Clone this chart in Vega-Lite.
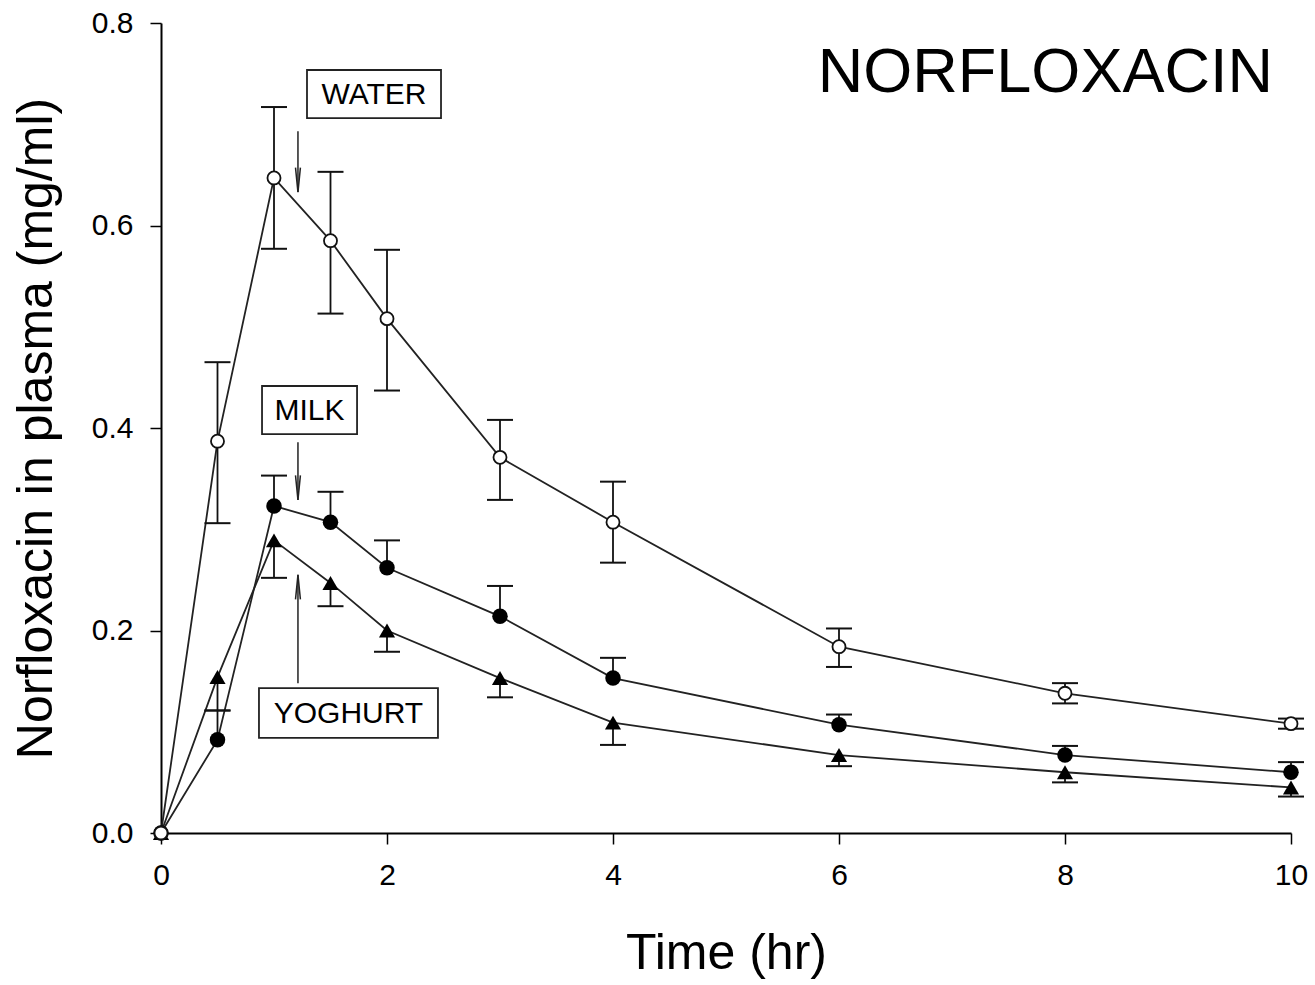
{
  "$schema": "https://vega.github.io/schema/vega-lite/v6.json",
  "autosize": {"type": "none"},
  "width": 1130,
  "height": 810,
  "padding": {"left": 161, "top": 23, "right": 24, "bottom": 152},
  "background": "white",
  "config": {
    "view": {"stroke": null},
    "font": "Liberation Sans",
    "axis": {
      "grid": false,
      "labelFlush": false,
      "domainColor": "black",
      "domainWidth": 2,
      "tickColor": "black",
      "tickWidth": 1.5,
      "tickSize": 11,
      "labelFont": "Liberation Sans",
      "labelFontSize": 30,
      "labelColor": "black",
      "titleFont": "Liberation Sans",
      "titleFontSize": 50,
      "titleFontWeight": "normal",
      "titleColor": "black"
    }
  },
  "datasets": {
    "conc": [
      {"series": "WATER", "t": 0, "v": 0, "lo": 0, "hi": 0},
      {"series": "WATER", "t": 0.5, "v": 0.387, "lo": 0.306, "hi": 0.465},
      {"series": "WATER", "t": 1, "v": 0.647, "lo": 0.577, "hi": 0.717},
      {"series": "WATER", "t": 1.5, "v": 0.585, "lo": 0.513, "hi": 0.653},
      {"series": "WATER", "t": 2, "v": 0.508, "lo": 0.437, "hi": 0.576},
      {"series": "WATER", "t": 3, "v": 0.371, "lo": 0.329, "hi": 0.408},
      {"series": "WATER", "t": 4, "v": 0.307, "lo": 0.267, "hi": 0.347},
      {"series": "WATER", "t": 6, "v": 0.184, "lo": 0.164, "hi": 0.202},
      {"series": "WATER", "t": 8, "v": 0.138, "lo": 0.128, "hi": 0.148},
      {"series": "WATER", "t": 10, "v": 0.108, "lo": 0.103, "hi": 0.113},
      {"series": "MILK", "t": 0, "v": 0, "lo": 0, "hi": 0},
      {"series": "MILK", "t": 0.5, "v": 0.092, "lo": 0.092, "hi": 0.121},
      {"series": "MILK", "t": 1, "v": 0.323, "lo": 0.323, "hi": 0.353},
      {"series": "MILK", "t": 1.5, "v": 0.307, "lo": 0.307, "hi": 0.337},
      {"series": "MILK", "t": 2, "v": 0.262, "lo": 0.262, "hi": 0.289},
      {"series": "MILK", "t": 3, "v": 0.214, "lo": 0.214, "hi": 0.244},
      {"series": "MILK", "t": 4, "v": 0.153, "lo": 0.153, "hi": 0.173},
      {"series": "MILK", "t": 6, "v": 0.107, "lo": 0.107, "hi": 0.117},
      {"series": "MILK", "t": 8, "v": 0.077, "lo": 0.077, "hi": 0.086},
      {"series": "MILK", "t": 10, "v": 0.060, "lo": 0.060, "hi": 0.070},
      {"series": "YOGHURT", "t": 0, "v": 0, "lo": 0, "hi": 0},
      {"series": "YOGHURT", "t": 0.5, "v": 0.154, "lo": 0.121, "hi": 0.154},
      {"series": "YOGHURT", "t": 1, "v": 0.289, "lo": 0.252, "hi": 0.289},
      {"series": "YOGHURT", "t": 1.5, "v": 0.247, "lo": 0.224, "hi": 0.247},
      {"series": "YOGHURT", "t": 2, "v": 0.200, "lo": 0.179, "hi": 0.200},
      {"series": "YOGHURT", "t": 3, "v": 0.153, "lo": 0.134, "hi": 0.153},
      {"series": "YOGHURT", "t": 4, "v": 0.109, "lo": 0.087, "hi": 0.109},
      {"series": "YOGHURT", "t": 6, "v": 0.077, "lo": 0.066, "hi": 0.077},
      {"series": "YOGHURT", "t": 8, "v": 0.060, "lo": 0.050, "hi": 0.060},
      {"series": "YOGHURT", "t": 10, "v": 0.045, "lo": 0.036, "hi": 0.045}
    ],
    "boxes": [
      {"label": "WATER", "x1": 1.292, "x2": 2.478, "y1": 0.706, "y2": 0.7536, "tx": 1.885, "ty": 0.730, "ax": 1.212, "ay1": 0.693, "ay2": 0.633, "dir": "down"},
      {"label": "MILK", "x1": 0.894, "x2": 1.735, "y1": 0.394, "y2": 0.4415, "tx": 1.314, "ty": 0.418, "ax": 1.212, "ay1": 0.386, "ay2": 0.329, "dir": "down"},
      {"label": "YOGHURT", "x1": 0.867, "x2": 2.451, "y1": 0.094, "y2": 0.143, "tx": 1.659, "ty": 0.1185, "ax": 1.212, "ay1": 0.148, "ay2": 0.255, "dir": "up"}
    ],
    "title": [
      {"text": "NORFLOXACIN", "x": 9.84, "y": 0.732}
    ]
  },
  "layer": [
    {
      "data": {"name": "conc"},
      "mark": {"type": "line", "color": "#222", "strokeWidth": 1.8},
      "encoding": {
        "x": {"field": "t", "type": "quantitative", "scale": {"domain": [0, 10], "nice": false},
          "axis": {"values": [0, 2, 4, 6, 8, 10], "format": "d", "title": "Time (hr)", "labelPadding": 16, "titlePadding": 38}},
        "y": {"field": "v", "type": "quantitative", "scale": {"domain": [0, 0.8], "nice": false},
          "axis": {"values": [0, 0.2, 0.4, 0.6, 0.8], "format": ".1f", "title": "Norfloxacin in plasma (mg/ml)", "labelPadding": 17, "titlePadding": 30}},
        "detail": {"field": "series"},
        "order": {"field": "t"}
      }
    },
    {
      "data": {"name": "conc"},
      "transform": [{"filter": "datum.t > 0"}],
      "mark": {"type": "rule", "color": "#111", "strokeWidth": 1.8},
      "encoding": {
        "x": {"field": "t", "type": "quantitative"},
        "y": {"field": "lo", "type": "quantitative"},
        "y2": {"field": "hi"}
      }
    },
    {
      "data": {"name": "conc"},
      "transform": [{"filter": "datum.t > 0 && datum.series != 'YOGHURT'"}],
      "mark": {"type": "tick", "orient": "horizontal", "color": "#111", "opacity": 1, "size": 26, "thickness": 2},
      "encoding": {
        "x": {"field": "t", "type": "quantitative"},
        "y": {"field": "hi", "type": "quantitative"}
      }
    },
    {
      "data": {"name": "conc"},
      "transform": [{"filter": "datum.t > 0 && datum.series != 'MILK'"}],
      "mark": {"type": "tick", "orient": "horizontal", "color": "#111", "opacity": 1, "size": 26, "thickness": 2},
      "encoding": {
        "x": {"field": "t", "type": "quantitative"},
        "y": {"field": "lo", "type": "quantitative"}
      }
    },
    {
      "data": {"name": "conc"},
      "transform": [{"filter": "datum.series == 'YOGHURT'"}],
      "mark": {"type": "point", "shape": "triangle-up", "filled": true, "color": "black", "opacity": 1, "size": 260},
      "encoding": {
        "x": {"field": "t", "type": "quantitative"},
        "y": {"field": "v", "type": "quantitative"}
      }
    },
    {
      "data": {"name": "conc"},
      "transform": [{"filter": "datum.series == 'MILK'"}],
      "mark": {"type": "point", "shape": "circle", "filled": true, "color": "black", "opacity": 1, "size": 240},
      "encoding": {
        "x": {"field": "t", "type": "quantitative"},
        "y": {"field": "v", "type": "quantitative"}
      }
    },
    {
      "data": {"name": "conc"},
      "transform": [{"filter": "datum.series == 'WATER'"}],
      "mark": {"type": "point", "shape": "circle", "filled": false, "fill": "white", "fillOpacity": 1, "opacity": 1, "stroke": "#111", "strokeWidth": 1.8, "size": 170},
      "encoding": {
        "x": {"field": "t", "type": "quantitative"},
        "y": {"field": "v", "type": "quantitative"}
      }
    },
    {
      "data": {"name": "boxes"},
      "mark": {"type": "rect", "fill": "white", "stroke": "#222", "strokeWidth": 1.8},
      "encoding": {
        "x": {"field": "x1", "type": "quantitative"},
        "x2": {"field": "x2"},
        "y": {"field": "y1", "type": "quantitative"},
        "y2": {"field": "y2"}
      }
    },
    {
      "data": {"name": "boxes"},
      "mark": {"type": "text", "font": "Liberation Sans", "fontSize": 30, "color": "black", "align": "center", "baseline": "middle", "dy": 1},
      "encoding": {
        "x": {"field": "tx", "type": "quantitative"},
        "y": {"field": "ty", "type": "quantitative"},
        "text": {"field": "label"}
      }
    },
    {
      "data": {"name": "boxes"},
      "mark": {"type": "rule", "color": "#222", "strokeWidth": 1.5},
      "encoding": {
        "x": {"field": "ax", "type": "quantitative"},
        "y": {"field": "ay1", "type": "quantitative"},
        "y2": {"field": "ay2"}
      }
    },
    {
      "data": {"name": "boxes"},
      "transform": [{"filter": "datum.dir == 'down'"}],
      "mark": {"type": "point", "shape": "M-0.2,-2L0,0L0.2,-2", "filled": false, "stroke": "#222", "opacity": 1, "strokeWidth": 1.5, "size": 600},
      "encoding": {
        "x": {"field": "ax", "type": "quantitative"},
        "y": {"field": "ay2", "type": "quantitative"}
      }
    },
    {
      "data": {"name": "boxes"},
      "transform": [{"filter": "datum.dir == 'up'"}],
      "mark": {"type": "point", "shape": "M-0.2,2L0,0L0.2,2", "filled": false, "stroke": "#222", "opacity": 1, "strokeWidth": 1.5, "size": 600},
      "encoding": {
        "x": {"field": "ax", "type": "quantitative"},
        "y": {"field": "ay2", "type": "quantitative"}
      }
    },
    {
      "data": {"name": "title"},
      "mark": {"type": "text", "font": "Liberation Sans", "fontSize": 63, "color": "black", "align": "right", "baseline": "alphabetic"},
      "encoding": {
        "x": {"field": "x", "type": "quantitative"},
        "y": {"field": "y", "type": "quantitative"},
        "text": {"field": "text"}
      }
    }
  ]
}
